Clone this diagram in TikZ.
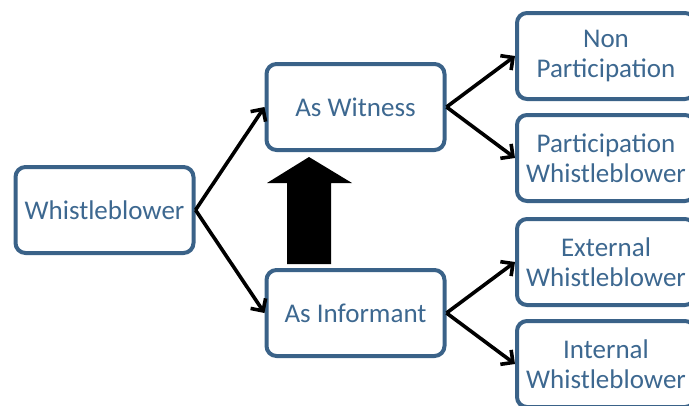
\documentclass[tikz,border=0pt]{standalone}
\usepackage{fontspec}
\setmainfont{Carlito}
\usepackage{tikz}
\usetikzlibrary{arrows.meta,calc}
\definecolor{boxline}{HTML}{3A6288}
\definecolor{boxtext}{HTML}{3D6890}

\begin{document}
\begin{tikzpicture}[x=1pt,y=-1pt
	,->,>={Straight Barb[length=9pt,width=18pt]}
	,line width=3.6pt
	,shorten >=0pt]
  \tikzstyle{box}=[draw=boxline,line width=4pt,fill=white,rounded corners=10pt
	,minimum width=178pt,minimum height=86pt,inner sep=2pt
	,align=center,text=boxtext,font=\fontsize{27}{30}\selectfont]

  \useasboundingbox (0,0) rectangle (689,405);
  \clip (0,0) rectangle (689,405);

  %left and middle
  \node[box](wb) at (104.5,210) {Whistleblower};
  \node[box](wit) at (355.5,107) {As Witness};
  \node[box](inf) at (355.5,313) {As Informant};
  %4 boxes on the right
  \node[box](nonp) at (606,56) {Non\\Participation};
  \node[box](part) at (606,158) {Participation\\Whistleblower};
  \node[box](ext) at (606,262) {External\\Whistleblower};
  \node[box](int) at (606,364) {Internal\\Whistleblower};

  \path
	(wb.east) edge (wit.west)
	(wb.east) edge (inf.west)
	(wit.east) edge (nonp.west)
	(wit.east) edge (part.west)
	(inf.east) edge (ext.west)
	(inf.east) edge (int.west);

  %big arrow up
  \fill[black] ($(inf.north)+(-68.5,-4)$) -- ++(44,0) -- ++(0,-81) -- ++(21,0)
	-- ++(-43,-26) -- ++(-42,26) -- ++(20,0) -- cycle;

\end{tikzpicture}
\end{document}
